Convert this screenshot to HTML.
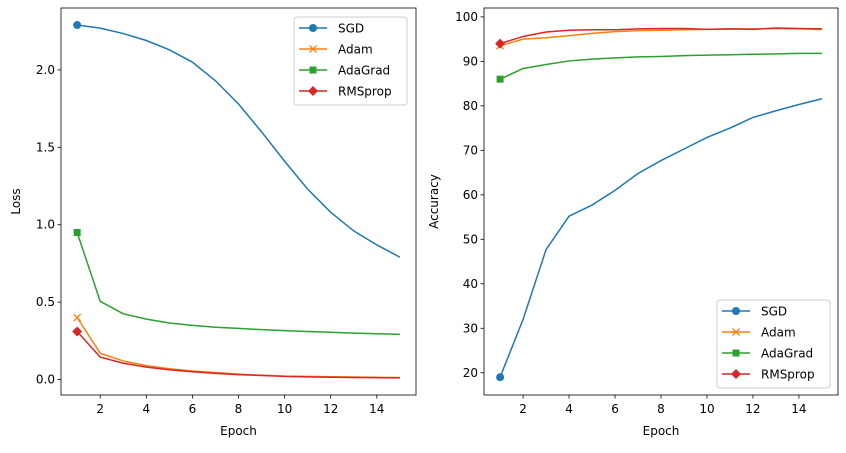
<!DOCTYPE html>
<html><head><meta charset="utf-8"><style>
body{margin:0;background:#fff;font-family:"Liberation Sans","DejaVu Sans",sans-serif;}
svg text{font-family:"DejaVu Sans","Liberation Sans",sans-serif;font-size:12px;fill:#000}
</style></head><body>
<svg id="c" width="846" height="448" xmlns="http://www.w3.org/2000/svg"></svg>
<script>
const epochs=[1,2,3,4,5,6,7,8,9,10,11,12,13,14,15];
const seriesNames=["SGD","Adam","AdaGrad","RMSprop"];
const colors=["#1f77b4","#ff7f0e","#2ca02c","#d62728"];
const markers=["circle","x","square","diamond"];
const lossSGD=[2.29,2.27,2.235,2.19,2.13,2.05,1.93,1.78,1.60,1.41,1.23,1.08,0.96,0.87,0.79];
const lossAdam=[0.40,0.17,0.12,0.09,0.07,0.055,0.045,0.035,0.028,0.022,0.02,0.018,0.016,0.014,0.013];
const lossAdaGrad=[0.95,0.505,0.425,0.39,0.365,0.35,0.338,0.33,0.322,0.316,0.31,0.305,0.3,0.296,0.292];
const lossRMSprop=[0.31,0.145,0.105,0.08,0.063,0.05,0.04,0.032,0.026,0.02,0.017,0.015,0.013,0.012,0.011];
const accSGD=[19,32,47.7,55.2,57.7,61,64.8,67.7,70.3,72.9,75,77.4,78.9,80.3,81.6];
const accAdam=[93.5,95,95.3,95.8,96.3,96.7,96.9,97.0,97.1,97.2,97.3,97.3,97.4,97.3,97.2];
const accAdaGrad=[86,88.4,89.3,90.1,90.5,90.8,91.0,91.1,91.3,91.4,91.5,91.6,91.7,91.8,91.8];
const accRMSprop=[94,95.6,96.6,97.0,97.1,97.1,97.3,97.4,97.4,97.2,97.3,97.2,97.5,97.4,97.3];
const xTicks=[2,4,6,8,10,12,14];
const lossTicks=[0.0,0.5,1.0,1.5,2.0];
const accTicks=[20,30,40,50,60,70,80,90,100];

const svg=document.getElementById('c');
const NS="http://www.w3.org/2000/svg";
function el(tag,attrs,parent){const e=document.createElementNS(NS,tag);for(const k in attrs)e.setAttribute(k,attrs[k]);(parent||svg).appendChild(e);return e;}

function marker(g,type,x,y,c){
  let m;
  if(type==="circle")m=el('circle',{cx:x,cy:y,r:4,fill:c},g);
  else if(type==="square")m=el('rect',{x:x-3.5,y:y-3.5,width:7,height:7,fill:c},g);
  else if(type==="diamond")m=el('polygon',{points:`${x},${y-5} ${x+5},${y} ${x},${y+5} ${x-5},${y}`,fill:c},g);
  else m=el('path',{d:`M${x-3.5},${y-3.5}L${x+3.5},${y+3.5}M${x-3.5},${y+3.5}L${x+3.5},${y-3.5}`,stroke:c,'stroke-width':1.3},g);
  return m;
}

function panel(opt){
  const {x0,x1,y0,y1,ymin,ymax,data,ticks,ylabel,fmt,legend,name}=opt;
  const xmin=0.3,xmax=15.7;
  const X=v=>x0+(v-xmin)/(xmax-xmin)*(x1-x0);
  const Y=v=>y1-(v-ymin)/(ymax-ymin)*(y1-y0);
  const g=el('g',{});
  
  
  data.forEach((d,i)=>{
    const pts=epochs.map((e,j)=>X(e)+','+Y(d[j])).join(' ');
    const l=el('polyline',{points:pts,fill:'none',stroke:colors[i],'stroke-width':1.5},g);
    
    
    const m=marker(g,markers[i],X(epochs[0]),Y(d[0]),colors[i]);
    
    
  });
  el('rect',{x:x0,y:y0,width:x1-x0,height:y1-y0,fill:'none',stroke:'#000','stroke-width':0.8},g);
  xTicks.forEach(t=>{
    el('line',{x1:X(t),x2:X(t),y1:y1,y2:y1+3.5,stroke:'#000','stroke-width':0.8},g);
    const tx=el('text',{x:X(t),y:y1+18,'text-anchor':'middle'},g);tx.textContent=t;
  });
  ticks.forEach(t=>{
    el('line',{x1:x0-3.5,x2:x0,y1:Y(t),y2:Y(t),stroke:'#000','stroke-width':0.8},g);
    const tx=el('text',{x:x0-6,y:Y(t)+4,'text-anchor':'end'},g);tx.textContent=fmt(t);
  });
  const xl=el('text',{x:(x0+x1)/2,y:y1+40,'text-anchor':'middle'},g);xl.textContent='Epoch';
  
  const yl=el('text',{x:0,y:0,'text-anchor':'middle',transform:`translate(${opt.ylx},${(y0+y1)/2}) rotate(-90)`},g);yl.textContent=ylabel;
  
  const lg=el('g',{},g);
  
  el('rect',{x:legend[0],y:legend[1],width:113,height:88,rx:3,fill:'#fff','fill-opacity':0.8,stroke:'#ccc'},lg);
  seriesNames.forEach((s,i)=>{
    const yy=legend[1]+11+i*21;
    const e=el('g',{},lg);
    
    el('line',{x1:legend[0]+5,x2:legend[0]+33,y1:yy,y2:yy,stroke:colors[i],'stroke-width':1.5},e);
    marker(e,markers[i],legend[0]+19,yy,colors[i]);
    const t=el('text',{x:legend[0]+44,y:yy+4.5},e);t.textContent=s;
  });
}
panel({name:'loss-chart',x0:61,x1:416,y0:8,y1:395,ymin:-0.1,ymax:2.4,
  data:[lossSGD,lossAdam,lossAdaGrad,lossRMSprop],ticks:lossTicks,ylabel:'Loss',ylx:20,
  fmt:t=>t.toFixed(1),legend:[294,17]});
panel({name:'accuracy-chart',x0:484,x1:838,y0:8,y1:395,ymin:15,ymax:102,
  data:[accSGD,accAdam,accAdaGrad,accRMSprop],ticks:accTicks,ylabel:'Accuracy',ylx:438,
  fmt:t=>String(t),legend:[717,300]});
</script>
</body></html>
